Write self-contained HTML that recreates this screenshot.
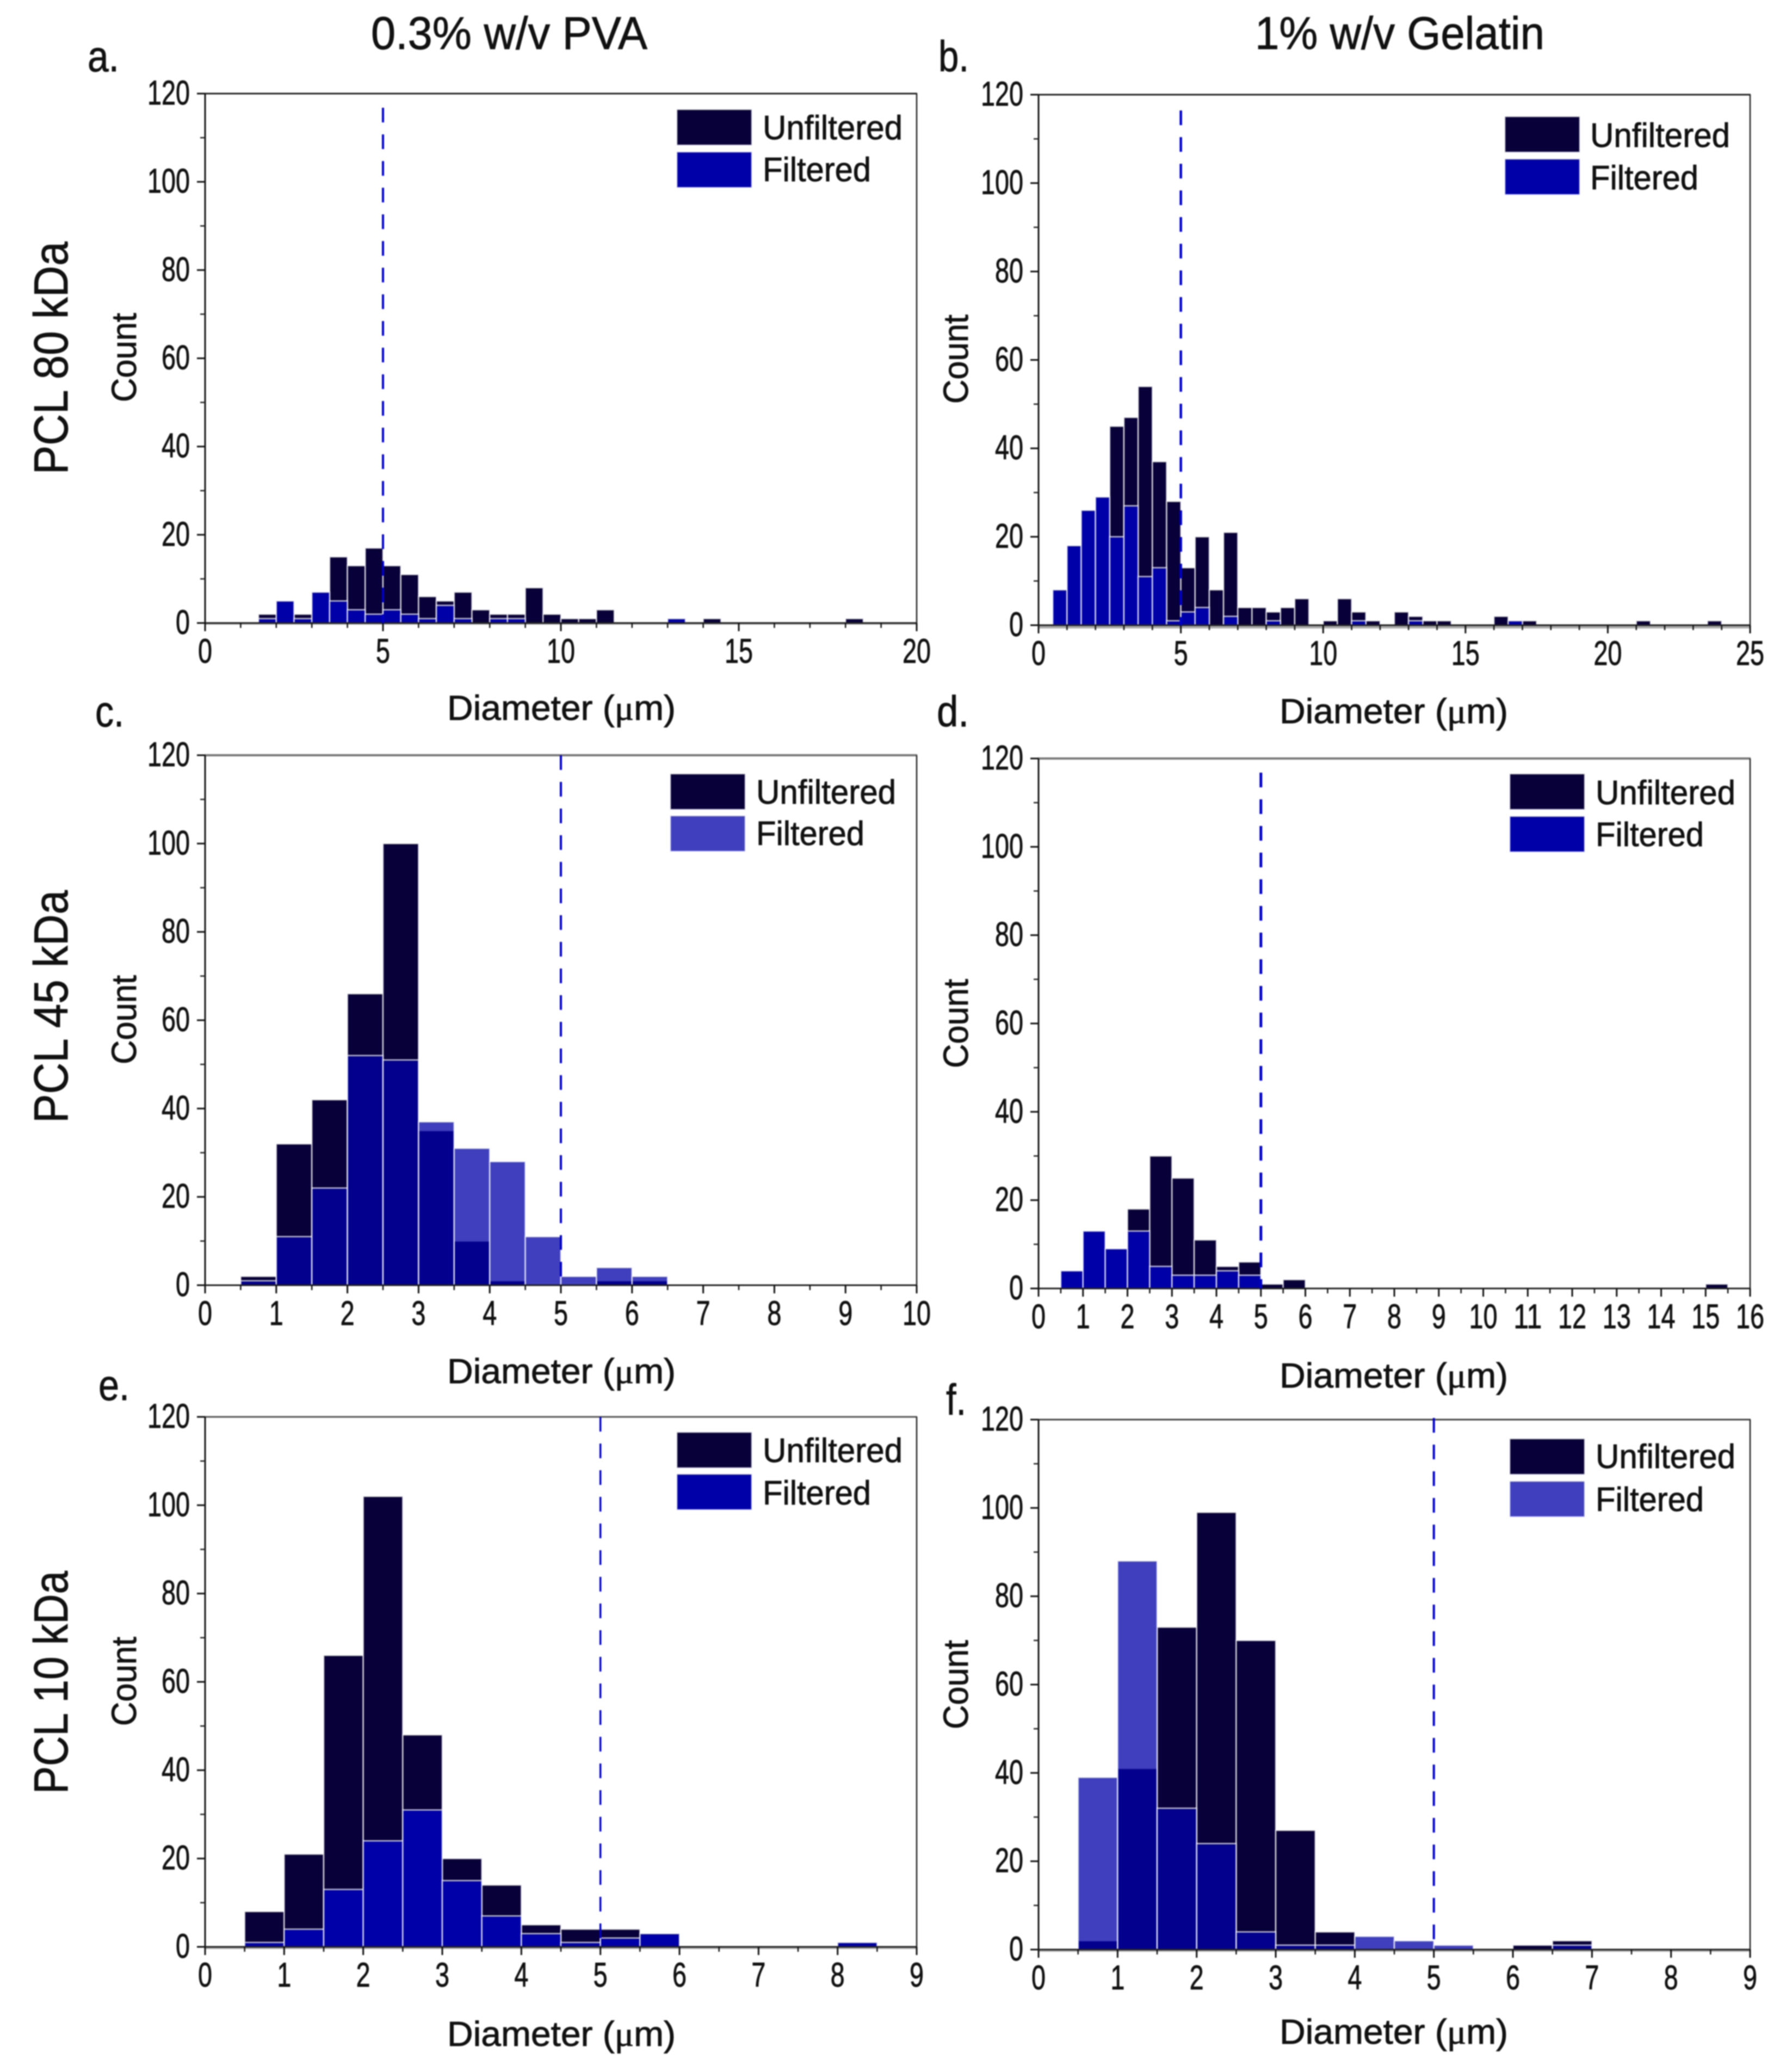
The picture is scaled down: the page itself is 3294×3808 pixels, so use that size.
<!DOCTYPE html>
<html lang="en">
<head>
<meta charset="utf-8">
<title>Particle diameter histograms</title>
<style>
html,body{margin:0;padding:0;background:#fff;}
svg{display:block;filter:blur(1px);}
text{font-family:"Liberation Sans",sans-serif;fill:#111;stroke:#111;stroke-width:0.9px;}
</style>
</head>
<body>
<svg id="figure" xmlns="http://www.w3.org/2000/svg" width="3294" height="3808" viewBox="0 0 3294 3808">
  <rect x="0" y="0" width="3294" height="3808" fill="#fff"/>
  <text x="682" y="90" font-size="84" textLength="508" lengthAdjust="spacingAndGlyphs">0.3% w/v PVA</text>
  <text x="2307" y="90" font-size="84" textLength="532" lengthAdjust="spacingAndGlyphs">1% w/v Gelatin</text>
  <text transform="translate(124,872) rotate(-90)" font-size="88" textLength="428" lengthAdjust="spacingAndGlyphs">PCL 80 kDa</text>
  <text transform="translate(124,2064) rotate(-90)" font-size="88" textLength="428" lengthAdjust="spacingAndGlyphs">PCL 45 kDa</text>
  <text transform="translate(124,3297) rotate(-90)" font-size="88" textLength="410" lengthAdjust="spacingAndGlyphs">PCL 10 kDa</text>
  <text x="161" y="131" font-size="80" textLength="58" lengthAdjust="spacingAndGlyphs">a.</text>
  <text x="1725" y="131" font-size="80" textLength="56" lengthAdjust="spacingAndGlyphs">b.</text>
  <text x="175" y="1335" font-size="80" textLength="53" lengthAdjust="spacingAndGlyphs">c.</text>
  <text x="1722" y="1335" font-size="80" textLength="59" lengthAdjust="spacingAndGlyphs">d.</text>
  <text x="181" y="2573" font-size="80" textLength="57" lengthAdjust="spacingAndGlyphs">e.</text>
  <text x="1739" y="2600" font-size="80" textLength="37" lengthAdjust="spacingAndGlyphs">f.</text>
</svg>
<script>
// Histogram values: counts per 0.5 µm bin, first bin starts at 0 µm.
const binWidth = 0.5;
const thresholdDiameter = 5;
const yMaximum = 120;
const yMajorTicks = [0, 20, 40, 60, 80, 100, 120];
const yMinorTicks = [10, 30, 50, 70, 90, 110];

const unfilteredA = [0,0,0,2,0,2,0,15,13,17,13,11,6,5,7,3,2,2,8,2,1,1,3,0,0,0,0,0,1,0,0,0,0,0,0,0,1,0,0,0];
const filteredA = [0,0,0,1,5,1,7,5,3,2,3,2,1,4,1,0,1,1,0,0,0,0,0,0,0,0,1,0,0,0];
const xMajorTicksA = [0, 5, 10, 15, 20];

const unfilteredB = [0,0,0,0,0,45,47,54,37,28,13,20,8,21,4,4,3,4,6,0,1,6,3,1,0,3,2,1,1,0,0,0,2,0,1,0,0,0,0,0,0,0,1,0,0,0,0,1];
const filteredB = [0,8,18,26,29,20,27,11,13,1,3,4,0,2,0,0,1,0,0,0,0,0,1,0,0,0,1,0,0,0,0,0,0,1];
const xMajorTicksB = [0, 5, 10, 15, 20, 25];

const unfilteredC = [0,2,32,42,66,100,35,10,1,0,0,1,1];
const filteredC = [0,1,11,22,52,51,37,31,28,11,2,4,2];
const xMajorTicksC = [0, 1, 2, 3, 4, 5, 6, 7, 8, 9, 10];

const unfilteredD = [0,0,0,0,18,30,25,11,5,6,1,2,0,0,0,0,0,0,0,0,0,0,0,0,0,0,0,0,0,0,1];
const filteredD = [0,4,13,9,13,5,3,3,4,3];
const xMajorTicksD = [0, 1, 2, 3, 4, 5, 6, 7, 8, 9, 10, 11, 12, 13, 14, 15, 16];

const unfilteredE = [0,8,21,66,102,48,20,14,5,4,4];
const filteredE = [0,1,4,13,24,31,15,7,3,1,2,3,0,0,0,0,1];
const xMajorTicksE = [0, 1, 2, 3, 4, 5, 6, 7, 8, 9];

const unfilteredF = [0,2,41,73,99,70,27,4,0,0,0,0,1,2];
const filteredF = [0,39,88,32,24,4,1,1,3,2,1,0,0,1];
const xMajorTicksF = [0, 1, 2, 3, 4, 5, 6, 7, 8, 9];

const panels = [
  {id:'a', unfiltered:unfilteredA, filtered:filteredA, xMajor:xMajorTicksA, xMinorStep:1,
   left:377, right:1685, top:172, bottom:1145, translucent:false, baseGrey:2, topW:3, topC:'#222',
   dashTop:198, dashW:4, legX:1244, legUY:201, legFY:279, legTX:1402, legUB:256, legFB:333,
   xLabelX:1032, xLabelB:1323, yLabelX:250, yLabelC:657},
  {id:'b', unfiltered:unfilteredB, filtered:filteredB, xMajor:xMajorTicksB, xMinorStep:1,
   left:1909, right:3217, top:174, bottom:1149, translucent:false, baseGrey:5, topW:3, topC:'#222',
   dashTop:203, dashW:4.5, legX:2766, legUY:214, legFY:292, legTX:2923, legUB:270, legFB:348,
   xLabelX:2562, xLabelB:1329, yLabelX:1779, yLabelC:660},
  {id:'c', unfiltered:unfilteredC, filtered:filteredC, xMajor:xMajorTicksC, xMinorStep:0.5,
   left:377, right:1685, top:1388, bottom:2362, translucent:true, baseGrey:0, topW:4, topC:'#777',
   dashTop:1388, dashW:4, legX:1232, legUY:1422, legFY:1499, legTX:1390, legUB:1477, legFB:1553,
   xLabelX:1032, xLabelB:2542, yLabelX:250, yLabelC:1874},
  {id:'d', unfiltered:unfilteredD, filtered:filteredD, xMajor:xMajorTicksD, xMinorStep:0.5,
   left:1909, right:3217, top:1394, bottom:2368, translucent:false, baseGrey:0, topW:4, topC:'#777',
   dashTop:1420, dashW:5, legX:2775, legUY:1422, legFY:1500, legTX:2933, legUB:1478, legFB:1555,
   xLabelX:2562, xLabelB:2550, yLabelX:1779, yLabelC:1881},
  {id:'e', unfiltered:unfilteredE, filtered:filteredE, xMajor:xMajorTicksE, xMinorStep:0.5,
   left:377, right:1685, top:2604, bottom:3578, translucent:false, baseGrey:3, topW:3, topC:'#555',
   dashTop:2604, dashW:3.5, legX:1244, legUY:2632, legFY:2709, legTX:1402, legUB:2687, legFB:2765,
   xLabelX:1032, xLabelB:3760, yLabelX:250, yLabelC:3090},
  {id:'f', unfiltered:unfilteredF, filtered:filteredF, xMajor:xMajorTicksF, xMinorStep:0.5,
   left:1909, right:3217, top:2609, bottom:3583, translucent:true, baseGrey:3, topW:3, topC:'#444',
   dashTop:2606, dashW:4, legX:2775, legUY:2644, legFY:2722, legTX:2933, legUB:2698, legFB:2777,
   xLabelX:2562, xLabelB:3756, yLabelX:1779, yLabelC:3096}
];

const SVG_NS = 'http://www.w3.org/2000/svg';
const figure = document.getElementById('figure');
const COLOR_UNFILTERED = '#080038';
const COLOR_FILTERED = '#0000A8';

function make(parent, tag, attrs, text) {
  const el = document.createElementNS(SVG_NS, tag);
  for (const k in attrs) el.setAttribute(k, attrs[k]);
  if (text !== undefined) el.textContent = text;
  parent.appendChild(el);
  return el;
}
function xScale(p, v) {
  return p.left + (v / p.xMajor[p.xMajor.length - 1]) * (p.right - p.left);
}
function yScale(p, v) {
  return p.bottom - (v / yMaximum) * (p.bottom - p.top);
}
function barAttrs(p, i, v, fill, opacity) {
  const x0 = xScale(p, i * binWidth);
  const x1 = xScale(p, (i + 1) * binWidth);
  const yT = yScale(p, v);
  return {x:x0, y:yT, width:x1 - x0, height:p.bottom - yT, fill:fill, 'fill-opacity':opacity,
          stroke:'#fff', 'stroke-opacity':0.72, 'stroke-width':2.5};
}

panels.forEach(function (p) {
  const g = make(figure, 'g', {});
  
  

  // zero-height bar outlines along the baseline
  if (p.baseGrey > 0) {
    const base = make(g, 'line', {x1:p.left, x2:p.right, y1:p.bottom + 1 + p.baseGrey / 2, y2:p.bottom + 1 + p.baseGrey / 2, stroke:'#aaa', 'stroke-width':p.baseGrey});
    
    
  }

  // bars
  const fillOpacity = p.translucent ? 0.75 : 1;
  p.unfiltered.forEach(function (v, i) {
    if (v <= 0) return;
    const bar = make(g, 'rect', barAttrs(p, i, v, COLOR_UNFILTERED, 1));
    
    
  });
  p.filtered.forEach(function (v, i) {
    if (v <= 0) return;
    const bar = make(g, 'rect', barAttrs(p, i, v, COLOR_FILTERED, fillOpacity));
    
    
  });

  // frame
  const topAxis = make(g, 'line', {x1:p.left - 1, x2:p.right + 1, y1:p.top, y2:p.top, stroke:p.topC, 'stroke-width':p.topW});
  
  
  const rightAxis = make(g, 'line', {x1:p.right, x2:p.right, y1:p.top, y2:p.bottom, stroke:'#222', 'stroke-width':2.5});
  
  
  const leftAxis = make(g, 'line', {x1:p.left, x2:p.left, y1:p.top, y2:p.bottom + 1, stroke:'#111', 'stroke-width':3});
  
  
  const bottomAxis = make(g, 'line', {x1:p.left - 1, x2:p.right + 1, y1:p.bottom, y2:p.bottom, stroke:'#222', 'stroke-width':3});
  
  

  // threshold line
  const xThreshold = xScale(p, thresholdDiameter);
  const dash = make(g, 'line', {x1:xThreshold, x2:xThreshold, y1:p.dashTop, y2:p.bottom, stroke:'#0000C8', 'stroke-width':p.dashW, 'stroke-dasharray':'27 22'});
  
  

  // x ticks
  const xMax = p.xMajor[p.xMajor.length - 1];
  const xMinorCount = Math.round(xMax / p.xMinorStep);
  for (let n = 0; n <= xMinorCount; n++) {
    const v = n * p.xMinorStep;
    const tick = make(g, 'line', {x1:xScale(p, v), x2:xScale(p, v), y1:p.bottom, y2:p.bottom + 9, stroke:'#111', 'stroke-width':2.5});
    
    
  }
  p.xMajor.forEach(function (v) {
    const tick = make(g, 'line', {x1:xScale(p, v), x2:xScale(p, v), y1:p.bottom, y2:p.bottom + 15, stroke:'#111', 'stroke-width':3});
    
    
    const s = String(v);
    const label = make(g, 'text', {x:xScale(p, v), y:p.bottom + 73, 'text-anchor':'middle', 'font-size':63, textLength:26 * s.length, lengthAdjust:'spacingAndGlyphs'}, s);
    
    
  });

  // y ticks
  yMinorTicks.forEach(function (v) {
    const tick = make(g, 'line', {x1:p.left - 9, x2:p.left, y1:yScale(p, v), y2:yScale(p, v), stroke:'#222', 'stroke-width':2.5});
    
    
  });
  yMajorTicks.forEach(function (v) {
    const tick = make(g, 'line', {x1:p.left - 15, x2:p.left, y1:yScale(p, v), y2:yScale(p, v), stroke:'#111', 'stroke-width':3});
    
    
    const s = String(v);
    const label = make(g, 'text', {x:p.left - 28 - 26 * s.length, y:yScale(p, v) + 20, 'font-size':63, textLength:26 * s.length, lengthAdjust:'spacingAndGlyphs'}, s);
    
    
  });

  // axis titles
  const xTitle = make(g, 'text', {x:p.xLabelX - 210, y:p.xLabelB, 'font-size':64, textLength:420, lengthAdjust:'spacingAndGlyphs'});
  
  
  xTitle.appendChild(document.createTextNode('Diameter ('));
  const mu = make(xTitle, 'tspan', {'font-family':'"Liberation Serif", serif'}, 'μ');
  
  
  xTitle.appendChild(document.createTextNode('m)'));

  const yTitle = make(g, 'text', {transform:'translate(' + p.yLabelX + ',' + (p.yLabelC + 82) + ') rotate(-90)', 'font-size':64, textLength:164, lengthAdjust:'spacingAndGlyphs'}, 'Count');
  
  

  // legend
  const legend = make(g, 'g', {});
  
  
  const swatchU = make(legend, 'rect', {x:p.legX, y:p.legUY, width:138, height:66, fill:COLOR_UNFILTERED, stroke:'#fff', 'stroke-opacity':0.7, 'stroke-width':2.5});
  
  
  const swatchF = make(legend, 'rect', {x:p.legX, y:p.legFY, width:138, height:66, fill:COLOR_FILTERED, 'fill-opacity':fillOpacity, stroke:'#fff', 'stroke-opacity':0.7, 'stroke-width':2.5});
  
  
  const textU = make(legend, 'text', {x:p.legTX, y:p.legUB, 'font-size':62, textLength:257, lengthAdjust:'spacingAndGlyphs'}, 'Unfiltered');
  
  
  const textF = make(legend, 'text', {x:p.legTX, y:p.legFB, 'font-size':62, textLength:199, lengthAdjust:'spacingAndGlyphs'}, 'Filtered');
  
  
});
</script>
</body>
</html>
